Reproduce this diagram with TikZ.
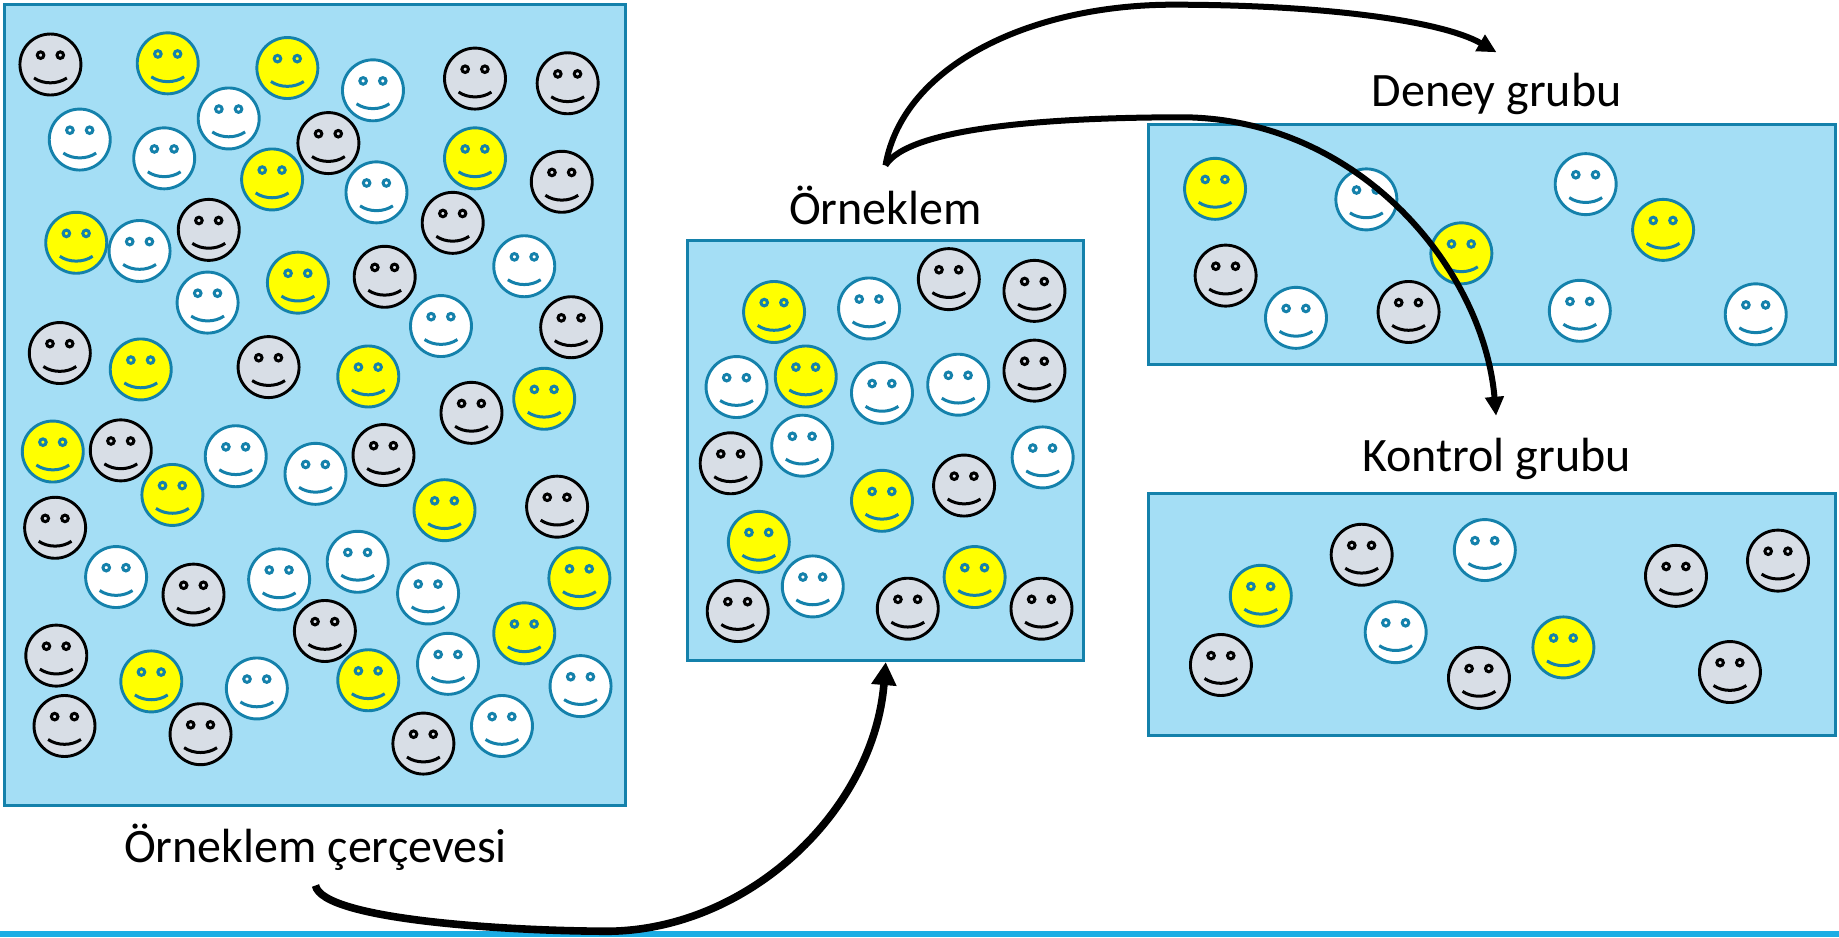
\documentclass[tikz,border=0pt]{standalone}
\usepackage{fontspec}
\setmainfont{Carlito}
\usetikzlibrary{arrows.meta}
\definecolor{panelblue}{HTML}{A4DEF5}
\definecolor{edgeblue}{HTML}{1481AB}
\definecolor{facegray}{HTML}{D8DEE6}
\definecolor{faceyellow}{HTML}{FFFF00}
\definecolor{barblue}{HTML}{1CADE4}

\begin{document}
\begin{tikzpicture}[
        x=0.5864pt, y=-0.5864pt,
        panel/.style={fill=panelblue, draw=edgeblue, line width=1.5pt},
        label/.style={font=\fontsize{24}{28}\selectfont, inner sep=0pt},
        flow/.style={-{Triangle[length=9.5pt,width=9pt]}, black, line width=3pt},
        bigflow/.style={-{Triangle[length=11.5pt,width=12pt]}, black, line width=3.8pt},
        smiley/.pic={
            \draw [pic actions, line width=1.45pt] (0,0) circle (26);
            \draw [pic actions, line width=1.5pt] (-8.4,-8) circle (2.8);
            \draw [pic actions, line width=1.5pt] (8.4,-8) circle (2.8);
            \draw [pic actions, fill=none, line width=1.5pt] (-14,11.5) .. controls (-6,17) and (6,17) .. (14,11.5);
        },
        grayface/.style={fill=facegray, draw=black},
        yellowface/.style={fill=faceyellow, draw=edgeblue},
        whiteface/.style={fill=white, draw=edgeblue},
    ]
    \useasboundingbox (0,0) rectangle (1568,799);

    %Draw the bar along the bottom
    \fill [barblue] (0,793.6) rectangle (1568,799);

    %Draw the panels
    \draw [panel] (4,4) rectangle (533,687);
    \draw [panel] (586,205) rectangle (924,563);
    \draw [panel] (979,106) rectangle (1565,311);
    \draw [panel] (979,421) rectangle (1565,627);

    %Draw the gray faces
    \foreach \x/\y in {43/55,405/67,484/71,280/122,479/155,178/196,386/190,328/236,487/279,51/301,229/313,402/352,
            103/384,327/388,475/432,47/450,165/507,277/538,48/559,55/619,171/626,361/634,
            809/238,882/248,882/316,623/395,822/414,629/521,774/519,888/519,
            1045/235,1201/266,
            1161/473,1429/491,1516/478,1041/567,1261/578,1475/573}
            \pic [grayface] at (\x,\y) {smiley};

    %Draw the yellow faces
    \foreach \x/\y in {143/54,245/58,232/153,405/135,65/207,254/241,120/315,314/321,464/340,45/385,147/422,379/435,
            494/493,447/540,129/581,314/580,
            660/266,687/321,752/427,647/462,831/492,
            1036/161,1418/196,1246/216,
            1075/508,1333/552}
            \pic [yellowface] at (\x,\y) {smiley};

    %Draw the white faces
    \foreach \x/\y in {195/101,318/77,68/119,140/135,321/164,119/214,447/227,177/258,376/278,201/389,269/404,99/492,
            238/494,305/479,365/506,219/587,382/566,495/585,428/619,
            741/263,628/330,752/335,817/328,684/380,889/390,693/500,
            1165/170,1352/157,1105/271,1347/265,1497/268,
            1266/469,1190/539}
            \pic [whiteface] at (\x,\y) {smiley};

    %Draw the labels
    \node [label] (frame) at (269,722) {Örneklem çerçevesi};
    \node [label] (sample) at (755,175) {Örneklem};
    \node [label] (deney) at (1276,80) {Deney grubu};
    \node [label] (kontrol) at (1276,391) {Kontrol grubu};

    %Draw the arrows between the groups
    \coordinate (frameout) at (269,755);
    \coordinate (samplein) at (755.2,564.5);
    \coordinate (sampleout) at (755,141);
    \coordinate (deneyin) at (1276,44.6);
    \coordinate (kontrolin) at (1275.6,354.5);
    \draw [bigflow] (frameout) .. controls (275,785) and (440,794) .. (520,794) .. controls (640,792) and (745,690) .. (samplein);
    \draw [flow] (sampleout) .. controls (770,55) and (880,4) .. (1000,4) .. controls (1130,4) and (1230,18) .. (deneyin);
    \draw [flow] (sampleout) .. controls (775,108) and (900,100) .. (1010,100) .. controls (1160,102) and (1265,230) .. (kontrolin);
\end{tikzpicture}
\end{document}
